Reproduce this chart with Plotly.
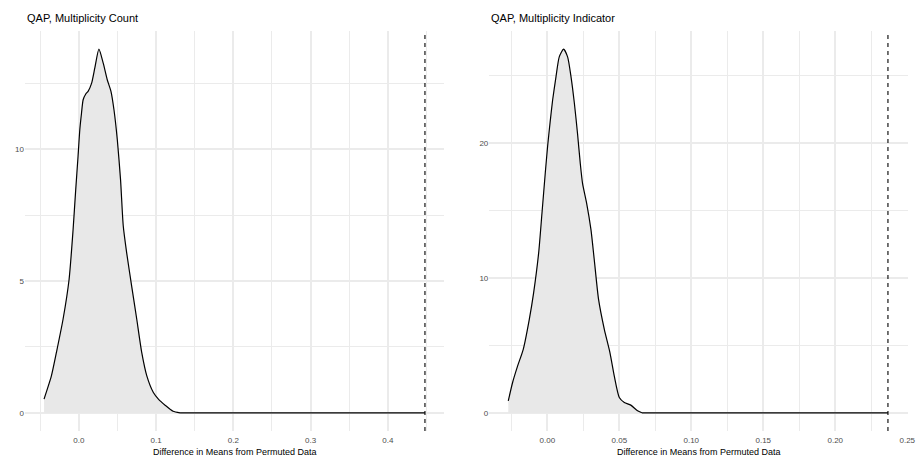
import plotly.graph_objects as go

# ---- data ----
count_x = [-0.045, -0.0355, -0.029, -0.0204, -0.0126, -0.0074, -0.004, -0.001, 0.0013, 0.0035,
           0.0056, 0.009, 0.012, 0.0165, 0.0208, 0.026, 0.0316, 0.0368, 0.0416, 0.0455,
           0.0498, 0.054, 0.0575, 0.0619, 0.0684, 0.075, 0.0814, 0.088, 0.0965, 0.103,
           0.1117, 0.122, 0.131, 0.448]
count_y = [0.52, 1.40, 2.29, 3.55, 5.06, 6.96, 8.47, 9.73, 10.75, 11.38,
           11.88, 12.1, 12.2, 12.5, 13.1, 13.8, 13.27, 12.64, 12.2, 11.5,
           10.37, 8.85, 7.1, 6.08, 4.81, 3.55, 2.29, 1.40, 0.77, 0.52,
           0.29, 0.06, 0.0, 0.0]
count_obs = 0.448

ind_x = [-0.0271, -0.0241, -0.0206, -0.0167, -0.0125, -0.0095, -0.006, -0.0037, -0.0014, 0.0002,
         0.0019, 0.0037, 0.006, 0.0083, 0.0113, 0.0141, 0.0165, 0.0188, 0.021, 0.0229,
         0.0245, 0.0273, 0.0303, 0.0326, 0.0356, 0.0396, 0.0435, 0.0465, 0.05, 0.0535,
         0.058, 0.0627, 0.0657, 0.2366]
ind_y = [0.89, 2.25, 3.48, 4.71, 6.93, 8.9, 11.86, 14.8, 17.8, 19.75,
         21.5, 23.2, 24.9, 26.4, 26.97, 26.4, 24.9, 22.96, 20.7, 18.5,
         17.0, 15.56, 13.6, 11.37, 8.41, 6.19, 4.47, 2.74, 1.14, 0.77,
         0.57, 0.15, 0.0, 0.0]
ind_obs = 0.2366

titles = ["QAP, Multiplicity Count", "QAP, Multiplicity Indicator"]
xlabel = "Difference in Means from Permuted Data"

left_xticks = [0.0, 0.1, 0.2, 0.3, 0.4]
left_xticklabels = ["0.0", "0.1", "0.2", "0.3", "0.4"]
left_yticks = [0, 5, 10]
right_xticks = [0.00, 0.05, 0.10, 0.15, 0.20, 0.25]
right_xticklabels = ["0.00", "0.05", "0.10", "0.15", "0.20", "0.25"]
right_yticks = [0, 10, 20]

FONT = "Liberation Sans, Arial, Helvetica, sans-serif"
GRID = "#EBEBEB"
FILL = "#E8E8E8"

fig = go.Figure()

def add_density(xs, ys, xa, ya):
    # smooth body (all but the flat tail), then straight flat tail
    body_x, body_y = xs[:-1], ys[:-1]
    tail_x, tail_y = xs[-2:], ys[-2:]
    fig.add_trace(go.Scatter(x=body_x, y=body_y, mode="none", fill="tozeroy", fillcolor=FILL,
                             line=dict(shape="spline", smoothing=0.6),
                             xaxis=xa, yaxis=ya, hoverinfo="skip", showlegend=False))
    fig.add_trace(go.Scatter(x=body_x, y=body_y, mode="lines",
                             line=dict(color="black", width=1.2, shape="spline", smoothing=0.6),
                             xaxis=xa, yaxis=ya, showlegend=False))
    fig.add_trace(go.Scatter(x=tail_x, y=tail_y, mode="lines",
                             line=dict(color="black", width=1.2),
                             xaxis=xa, yaxis=ya, showlegend=False))

add_density(count_x, count_y, "x", "y")
add_density(ind_x, ind_y, "x2", "y2")

def span(lo, hi):
    e = (hi - lo) * 0.05
    return [lo - e, hi + e]

ydom = [1 - 431 / 463, 1 - 31 / 463]

axis_common = dict(showline=False, zeroline=False, ticks="", showgrid=True, automargin=False,
                   gridcolor=GRID, gridwidth=1.6,
                   tickfont=dict(family=FONT, size=8, color="#4D4D4D"))

right_range = span(min(ind_x), ind_obs)
right_range[1] = right_range[1] + 0.0006

fig.update_layout(
    width=919, height=463, margin=dict(l=0, r=0, t=0, b=0, autoexpand=False),
    paper_bgcolor="white", plot_bgcolor="white", showlegend=False,
    xaxis=dict(domain=[25 / 919, 444 / 919], range=span(min(count_x), count_obs),
               tickvals=left_xticks, ticktext=left_xticklabels, anchor="y", ticklabelstandoff=3,
               minor=dict(dtick=0.05, tick0=0.05, showgrid=True, gridcolor=GRID, gridwidth=0.8),
               **axis_common),
    yaxis=dict(domain=ydom, range=span(0, max(count_y)), tickvals=left_yticks, anchor="x",
               minor=dict(dtick=2.5, tick0=2.5, showgrid=True, gridcolor=GRID, gridwidth=0.8),
               **axis_common),
    xaxis2=dict(domain=[489.3 / 919, 907.8 / 919], range=right_range,
                tickvals=right_xticks, ticktext=right_xticklabels, anchor="y2", ticklabelstandoff=3,
                minor=dict(dtick=0.025, tick0=0.025, showgrid=True, gridcolor=GRID, gridwidth=0.8),
                **axis_common),
    yaxis2=dict(domain=ydom, range=span(0, max(ind_y)), tickvals=right_yticks, anchor="x2",
                minor=dict(dtick=5, tick0=5, showgrid=True, gridcolor=GRID, gridwidth=0.8),
                **axis_common),
)

for obs, xr, yr in [(count_obs, "x", "y domain"), (ind_obs, "x2", "y2 domain")]:
    fig.add_shape(type="line", x0=obs, x1=obs, y0=0, y1=1, xref=xr, yref=yr,
                  line=dict(color="black", width=1.1, dash="4px,4px"))

# titles
fig.add_annotation(text=titles[0], x=25 / 919, y=1 - 18 / 463, xref="paper", yref="paper",
                   xanchor="left", yanchor="middle", showarrow=False,
                   font=dict(family=FONT, size=11, color="black"))
fig.add_annotation(text=titles[1], x=489.3 / 919, y=1 - 18 / 463, xref="paper", yref="paper",
                   xanchor="left", yanchor="middle", showarrow=False,
                   font=dict(family=FONT, size=11, color="black"))
for dom in ([25 / 919, 444 / 919], [489.3 / 919, 907.3 / 919]):
    fig.add_annotation(text=xlabel, x=(dom[0] + dom[1]) / 2, y=1 - 452 / 463,
                       xref="paper", yref="paper", xanchor="center", yanchor="middle",
                       showarrow=False, font=dict(family=FONT, size=9, color="black"))

fig.write_html("out.html")
